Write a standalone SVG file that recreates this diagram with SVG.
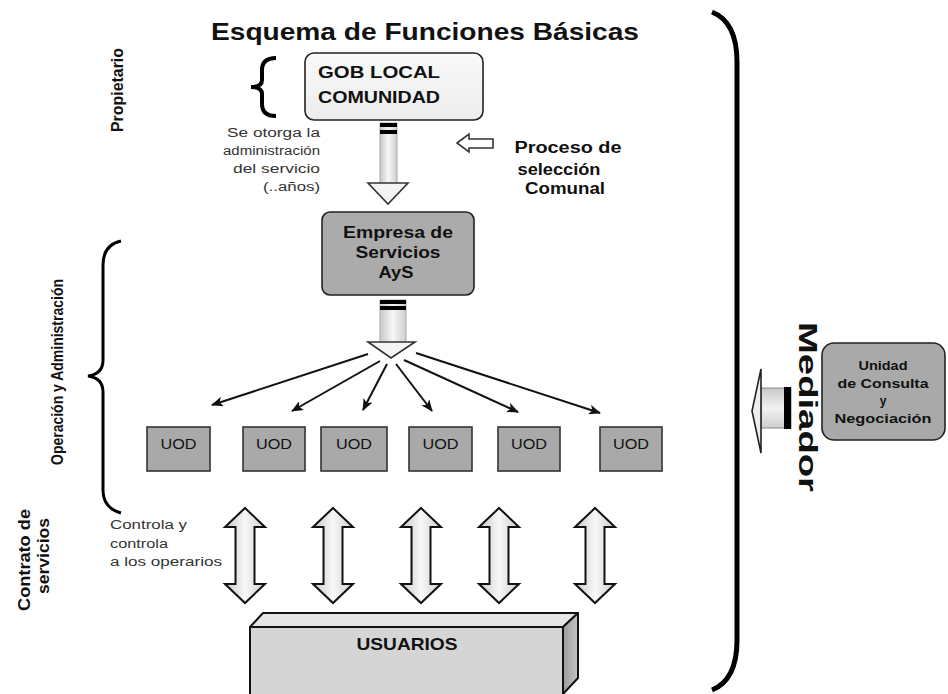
<svg xmlns="http://www.w3.org/2000/svg" width="948" height="694" viewBox="0 0 948 694">
  <style>
    .t { font-family: "Liberation Sans", Arial, sans-serif; fill: #111; }
    .b { font-weight: bold; }
    .note { font-family: "Liberation Sans", Arial, sans-serif; fill: #333; font-size: 12.5px; }
    .box { stroke: #222; stroke-width: 1.6; }
    .uod { fill: #a9a9a9; stroke: #333; stroke-width: 1.6; }
    .brace { fill: none; stroke: #000; }
    .fan { stroke: #111; stroke-width: 2; fill: none; marker-end: url(#tip); }
    .dbl { fill: url(#shaftV); stroke: #111; stroke-width: 2; stroke-linejoin: miter; }
  </style>
  <defs>
    <marker id="tip" viewBox="0 0 12 10" refX="11" refY="5" markerWidth="12" markerHeight="10" markerUnits="userSpaceOnUse" orient="auto">
      <path d="M0,0 L12,5 L0,10 L3,5 z" fill="#111"/>
    </marker>
    <linearGradient id="shaftV" x1="0" y1="0" x2="1" y2="0">
      <stop offset="0" stop-color="#c8c8c8"/>
      <stop offset="0.5" stop-color="#f7f7f7"/>
      <stop offset="1" stop-color="#cfcfcf"/>
    </linearGradient>
    <linearGradient id="shaftH" x1="0" y1="0" x2="0" y2="1">
      <stop offset="0" stop-color="#c8c8c8"/>
      <stop offset="0.5" stop-color="#f2f2f2"/>
      <stop offset="1" stop-color="#cfcfcf"/>
    </linearGradient>
    <linearGradient id="gobFill" x1="0" y1="0" x2="0" y2="1">
      <stop offset="0" stop-color="#fafafa"/>
      <stop offset="1" stop-color="#ececec"/>
    </linearGradient>
    <linearGradient id="sideFill" x1="0" y1="0" x2="1" y2="0">
      <stop offset="0" stop-color="#9c9c9c"/>
      <stop offset="1" stop-color="#c4c4c4"/>
    </linearGradient>
    <polygon id="updown" points="0,0 20,19 9.5,19 9.5,76 20,76 0,95 -20,76 -9.5,76 -9.5,19 -20,19"/>
  </defs>

  <rect width="948" height="694" fill="#fff"/>

  <!-- title -->
  <text class="t b" x="211" y="40" font-size="24" textLength="428" lengthAdjust="spacingAndGlyphs">Esquema de Funciones Básicas</text>

  <!-- side labels -->
  <text class="t b" transform="translate(123,90) rotate(-90)" text-anchor="middle" font-size="17" textLength="84" lengthAdjust="spacingAndGlyphs">Propietario</text>
  <text class="t b" transform="translate(63,372) rotate(-90)" text-anchor="middle" font-size="16" textLength="186" lengthAdjust="spacingAndGlyphs">Operación y Administración</text>
  <text class="t b" transform="translate(30,560) rotate(-90)" text-anchor="middle" font-size="16" textLength="102" lengthAdjust="spacingAndGlyphs">Contrato de</text>
  <text class="t b" transform="translate(49,556) rotate(-90)" text-anchor="middle" font-size="16" textLength="76" lengthAdjust="spacingAndGlyphs">servicios</text>
  <text class="t b" transform="translate(799,407) rotate(90)" text-anchor="middle" font-size="25" textLength="170" lengthAdjust="spacingAndGlyphs">Mediador</text>

  <!-- braces -->
  <path class="brace" stroke-width="4" d="M276 58 Q262 58 262 70 L262 80 Q262 87 251 87 Q262 87 262 94 L262 104 Q262 116 276 116"/>
  <path class="brace" stroke-width="3" d="M121 241 Q103 245 103 265 L103 360 Q103 374 88 376 Q103 378 103 392 L103 490 Q103 508 121 513"/>
  <path class="brace" stroke-width="5" d="M712 12 Q737 22 737 62 L737 640 Q737 680 712 690"/>

  <!-- notes -->
  <g id="note-otorga">
    <text class="note" x="320" y="137" text-anchor="end" textLength="93" lengthAdjust="spacingAndGlyphs">Se otorga la</text>
    <text class="note" x="320" y="155" text-anchor="end" textLength="97" lengthAdjust="spacingAndGlyphs">administración</text>
    <text class="note" x="320" y="173" text-anchor="end" textLength="87" lengthAdjust="spacingAndGlyphs">del servicio</text>
    <text class="note" x="320" y="191" text-anchor="end" textLength="57" lengthAdjust="spacingAndGlyphs">(..años)</text>
  </g>
  <g id="note-proceso">
    <text class="t b" x="568" y="153" text-anchor="middle" font-size="16" textLength="107" lengthAdjust="spacingAndGlyphs">Proceso de</text>
    <text class="t b" x="559" y="175" text-anchor="middle" font-size="16" textLength="83" lengthAdjust="spacingAndGlyphs">selección</text>
    <text class="t b" x="565" y="194" text-anchor="middle" font-size="16" textLength="80" lengthAdjust="spacingAndGlyphs">Comunal</text>
  </g>
  <g id="note-controla">
    <text class="note" x="110" y="529" textLength="77" lengthAdjust="spacingAndGlyphs">Controla y</text>
    <text class="note" x="110" y="548" textLength="58" lengthAdjust="spacingAndGlyphs">controla</text>
    <text class="note" x="110" y="566" textLength="112" lengthAdjust="spacingAndGlyphs">a los operarios</text>
  </g>

  <!-- nodes -->
  <g id="gob-local">
    <rect class="box" x="305" y="53" width="178" height="67" rx="9" fill="url(#gobFill)"/>
    <text class="t b" x="318" y="78" font-size="17" textLength="122" lengthAdjust="spacingAndGlyphs">GOB LOCAL</text>
    <text class="t b" x="318" y="103" font-size="17" textLength="122" lengthAdjust="spacingAndGlyphs">COMUNIDAD</text>
  </g>

  <g id="empresa">
    <rect class="box" x="322" y="212" width="152" height="83" rx="8" fill="#ababab"/>
    <text class="t b" x="398" y="238" text-anchor="middle" font-size="16" textLength="110" lengthAdjust="spacingAndGlyphs">Empresa de</text>
    <text class="t b" x="398" y="258" text-anchor="middle" font-size="16" textLength="85" lengthAdjust="spacingAndGlyphs">Servicios</text>
    <text class="t b" x="396" y="278" text-anchor="middle" font-size="16" textLength="35" lengthAdjust="spacingAndGlyphs">AyS</text>
  </g>

  <g id="uod-1">
    <rect class="uod" x="147" y="427" width="63" height="44"/>
    <text class="t" x="178.5" y="449" text-anchor="middle" font-size="15" textLength="36" lengthAdjust="spacingAndGlyphs">UOD</text>
  </g>
  <g id="uod-2">
    <rect class="uod" x="243" y="427" width="62" height="44"/>
    <text class="t" x="274" y="449" text-anchor="middle" font-size="15" textLength="36" lengthAdjust="spacingAndGlyphs">UOD</text>
  </g>
  <g id="uod-3">
    <rect class="uod" x="321" y="427" width="66" height="44"/>
    <text class="t" x="354" y="449" text-anchor="middle" font-size="15" textLength="36" lengthAdjust="spacingAndGlyphs">UOD</text>
  </g>
  <g id="uod-4">
    <rect class="uod" x="409" y="427" width="63" height="44"/>
    <text class="t" x="440.5" y="449" text-anchor="middle" font-size="15" textLength="36" lengthAdjust="spacingAndGlyphs">UOD</text>
  </g>
  <g id="uod-5">
    <rect class="uod" x="498" y="427" width="62" height="44"/>
    <text class="t" x="529" y="449" text-anchor="middle" font-size="15" textLength="36" lengthAdjust="spacingAndGlyphs">UOD</text>
  </g>
  <g id="uod-6">
    <rect class="uod" x="600" y="427" width="62" height="44"/>
    <text class="t" x="631" y="449" text-anchor="middle" font-size="15" textLength="36" lengthAdjust="spacingAndGlyphs">UOD</text>
  </g>

  <g id="usuarios">
    <polygon points="250,627 263,613 578,613 563,627" fill="#e6e6e6" stroke="#111" stroke-width="2" stroke-linejoin="round"/>
    <polygon points="563,627 578,613 578,678 563,694" fill="url(#sideFill)" stroke="#111" stroke-width="2" stroke-linejoin="round"/>
    <rect x="250" y="627" width="313" height="72" fill="#d5d5d5" stroke="#111" stroke-width="2"/>
    <text class="t b" x="407" y="650" text-anchor="middle" font-size="17" textLength="101" lengthAdjust="spacingAndGlyphs">USUARIOS</text>
  </g>

  <g id="unidad-consulta">
    <rect class="box" x="822" y="343" width="123" height="97" rx="12" fill="#a9a9a9"/>
    <text class="t b" x="883" y="370" text-anchor="middle" font-size="12" textLength="49" lengthAdjust="spacingAndGlyphs">Unidad</text>
    <text class="t b" x="883" y="388" text-anchor="middle" font-size="12" textLength="91" lengthAdjust="spacingAndGlyphs">de Consulta</text>
    <text class="t b" x="883" y="405" text-anchor="middle" font-size="12">y</text>
    <text class="t b" x="883" y="423" text-anchor="middle" font-size="12" textLength="97" lengthAdjust="spacingAndGlyphs">Negociación</text>
  </g>

  <!-- connectors -->
  <g id="connectors">
    <!-- block arrow: GOB LOCAL to Empresa -->
    <g id="arrow-gob-empresa">
      <rect x="380" y="123" width="17" height="61" fill="url(#shaftV)" stroke="#aaa" stroke-width="1"/>
      <rect x="380" y="123" width="17" height="4" fill="#000"/>
      <rect x="380" y="130" width="17" height="4" fill="#000"/>
      <polygon points="368,183 380,183 397,183 408,183 388,204" fill="#f4f4f4" stroke="#333" stroke-width="1.6" stroke-linejoin="miter"/>
    </g>

    <!-- hollow arrow: Proceso de selección -->
    <polygon id="arrow-proceso" points="457,143 469,134 469,139 493,139 493,148 469,148 469,152" fill="#fff" stroke="#333" stroke-width="1.6"/>

    <!-- block arrow: Empresa to the fan -->
    <g id="arrow-empresa">
      <rect x="380" y="300" width="26" height="43" fill="url(#shaftV)" stroke="#aaa" stroke-width="1"/>
      <rect x="380" y="300" width="26" height="4" fill="#000"/>
      <rect x="380" y="306" width="26" height="4" fill="#000"/>
      <polygon points="368,342 415,342 391,358" fill="#f4f4f4" stroke="#333" stroke-width="1.6"/>
    </g>

    <!-- fan to the operating units -->
    <line class="fan" x1="368" y1="354" x2="212" y2="405"/>
    <line class="fan" x1="380" y1="361" x2="292" y2="411"/>
    <line class="fan" x1="387" y1="364" x2="363" y2="410"/>
    <line class="fan" x1="396" y1="364" x2="432" y2="411"/>
    <line class="fan" x1="404" y1="360" x2="518" y2="412"/>
    <line class="fan" x1="416" y1="353" x2="600" y2="413"/>

    <!-- two-way arrows: operators / users -->
    <use href="#updown" class="dbl" transform="translate(245,508)"/>
    <use href="#updown" class="dbl" transform="translate(333,508)"/>
    <use href="#updown" class="dbl" transform="translate(421,508)"/>
    <use href="#updown" class="dbl" transform="translate(499,508)"/>
    <use href="#updown" class="dbl" transform="translate(595,508)"/>

    <!-- block arrow from the consultation unit -->
    <g id="arrow-mediador">
      <rect x="761" y="388" width="30" height="40" fill="url(#shaftH)" stroke="#888" stroke-width="1"/>
      <rect x="784" y="387" width="7" height="42" fill="#000"/>
      <polygon points="761,369 752,411 761,453" fill="#eee" stroke="#222" stroke-width="1.6"/>
    </g>
  </g>
</svg>
